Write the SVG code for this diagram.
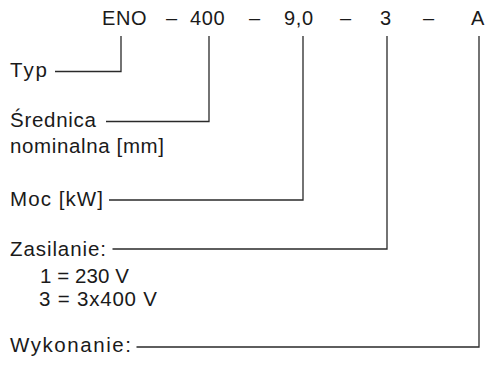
<svg xmlns="http://www.w3.org/2000/svg" width="486" height="365" viewBox="0 0 486 365">
<style>
text{font-family:"Liberation Sans",Arial,sans-serif;font-size:20.5px;fill:#1a1a1a}
.t{font-size:20px;letter-spacing:0.6px}
.c{fill:none;stroke:#2a2a2a;stroke-width:1.3}
</style>
<rect width="486" height="365" fill="#fff"/>
<g id="code">
<text class="t" x="102" y="24.5">ENO</text>
<text class="t" x="166" y="24.5">–</text>
<text class="t" x="190" y="24.5">400</text>
<text class="t" x="249" y="24.5">–</text>
<text class="t" x="284" y="24.5">9,0</text>
<text class="t" x="340" y="24.5">–</text>
<text class="t" x="380" y="24.5">3</text>
<text class="t" x="423" y="24.5">–</text>
<text class="t" x="471" y="24.5">A</text>
</g>
<g id="typ"><text x="10" y="77" textLength="37" lengthAdjust="spacing">Typ</text></g>
<g id="srednica"><text x="10" y="127" textLength="86" lengthAdjust="spacing">Średnica</text><text x="10" y="153" textLength="154" lengthAdjust="spacing">nominalna [mm]</text></g>
<g id="moc"><text x="10" y="206" textLength="93" lengthAdjust="spacing">Moc [kW]</text></g>
<g id="zasilanie"><text x="10" y="255.5" textLength="96" lengthAdjust="spacing">Zasilanie:</text><text x="40" y="283" textLength="89" lengthAdjust="spacing">1 = 230 V</text><text x="39" y="306" textLength="118" lengthAdjust="spacing">3 = 3x400 V</text></g>
<g id="wykonanie"><text x="10" y="352" textLength="121" lengthAdjust="spacing">Wykonanie:</text></g>
<g id="connectors">
<path class="c" d="M55 71.5H121V36"/>
<path class="c" d="M106 121.5H209V36"/>
<path class="c" d="M109 200H303V36"/>
<path class="c" d="M112.5 249H387V36"/>
<path class="c" d="M136.5 347H479V36"/>
</g>
</svg>
